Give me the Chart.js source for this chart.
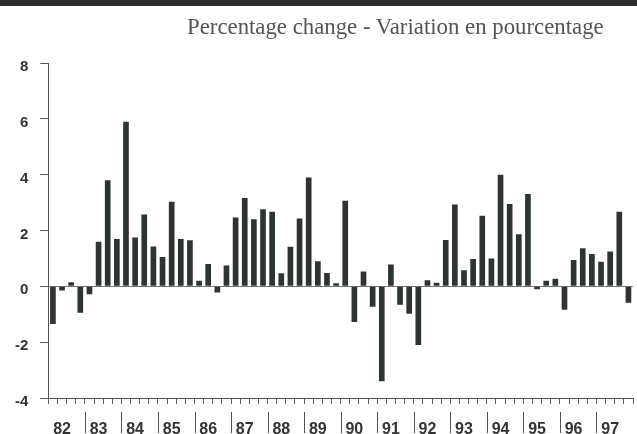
<!DOCTYPE html>
<html>
<head>
<meta charset="UTF-8">
<title>Percentage change</title>
<script src="https://cdn.jsdelivr.net/npm/chart.js"></script>
<style>
    body { margin: 0; background: #fff; }
    .wrap { position: relative; width: 637px; height: 434px; }
    .band { position: absolute; left: 0; top: 0; width: 637px; height: 6px; background: #2e2e2e; }
    .titre {
        position: absolute; left: 187px; top: 14px;
        font-family: "Liberation Serif", "Times New Roman", serif;
        font-size: 22.8px; color: #555; white-space: nowrap;
    }
</style>
</head>
<body>
<div class="wrap">
    <canvas id="graf" width="637" height="434"></canvas>
    <div class="band"></div>
    <div class="titre">Percentage change - Variation en pourcentage</div>
</div>
<script>
// years on the axis, quarterly values (% change)
const years = ['82','83','84','85','86','87','88','89','90','91','92','93','94','95','96','97'];
const quarters = ['Q1','Q2','Q3','Q4'];
const values = [
    -1.35, -0.15, 0.15, -0.95,
    -0.28, 1.6, 3.8, 1.7,
    5.9, 1.75, 2.57, 1.43,
    1.05, 3.03, 1.7, 1.65,
    0.2, 0.8, -0.22, 0.75,
    2.47, 3.16, 2.4, 2.76,
    2.67, 0.47, 1.42, 2.43,
    3.9, 0.9, 0.48, 0.11,
    3.07, -1.28, 0.53, -0.73,
    -3.4, 0.78, -0.66, -0.98,
    -2.1, 0.22, 0.13, 1.66,
    2.93, 0.58, 0.98, 2.53,
    1.0, 4.0, 2.95, 1.87,
    3.31, -0.1, 0.2, 0.27,
    -0.84, 0.94, 1.36, 1.16,
    0.88, 1.25, 2.67, -0.59
];
const yTicks = [-4, -2, 0, 2, 4, 6, 8];

const labels = [];
years.forEach(a => quarters.forEach(q => labels.push(a + q)));

// long lines between years under the axis
const separateurs = {
    id: 'separateurs',
    afterDraw(chart) {
        const xs = chart.scales.x;
        const ctx = chart.ctx;
        const bas = chart.chartArea.bottom;
        ctx.save();
        ctx.strokeStyle = '#555';
        ctx.lineWidth = 1;
        for (let i = 4; i < labels.length; i += 4) {
            const x = Math.round((xs.getPixelForValue(i - 1) + xs.getPixelForValue(i)) / 2) + 0.5;
            ctx.beginPath();
            ctx.moveTo(x, bas + 14);
            ctx.lineTo(x, bas + 35);
            ctx.stroke();
        }
        ctx.restore();
    }
};

new Chart(document.getElementById('graf'), {
    type: 'bar',
    data: {
        labels: labels,
        datasets: [{
            data: values,
            backgroundColor: '#2d3530',
            barPercentage: 0.62,
            categoryPercentage: 1.0
        }]
    },
    options: {
        responsive: false,
        animation: false,
        layout: { padding: { left: 3, right: 4, top: 63, bottom: 0 } },
        plugins: { legend: { display: false }, tooltip: { enabled: false } },
        scales: {
            x: {
                offset: true,
                afterFit: s => { s.height = 36; s.paddingLeft = 0; s.paddingRight = 0; },
                border: { display: true, color: '#555', width: 1 },
                grid: { offset: true, drawOnChartArea: false, tickLength: 6, color: '#666' },
                ticks: {
                    autoSkip: false, maxRotation: 0, padding: 16,
                    color: '#333',
                    font: { family: 'Liberation Sans, Arial', size: 16, weight: 'bold' },
                    callback: (v, i) => i % 4 === 1 ? years[Math.floor(i / 4)] : ''
                }
            },
            y: {
                min: -4, max: 8,
                afterBuildTicks: s => { s.ticks = yTicks.map(v => ({ value: v })); },
                border: { display: true, color: '#555', width: 1 },
                grid: {
                    drawOnChartArea: true,
                    tickLength: 8,
                    color: c => c.tick && c.tick.value === 0 ? '#777' : 'rgba(0,0,0,0)',
                    tickColor: '#555'
                },
                ticks: {
                    padding: 12,
                    labelOffset: 4,
                    color: '#333',
                    font: { family: 'Liberation Sans, Arial', size: 15, weight: 'bold' }
                }
            }
        }
    },
    plugins: [separateurs]
});
</script>
</body>
</html>
